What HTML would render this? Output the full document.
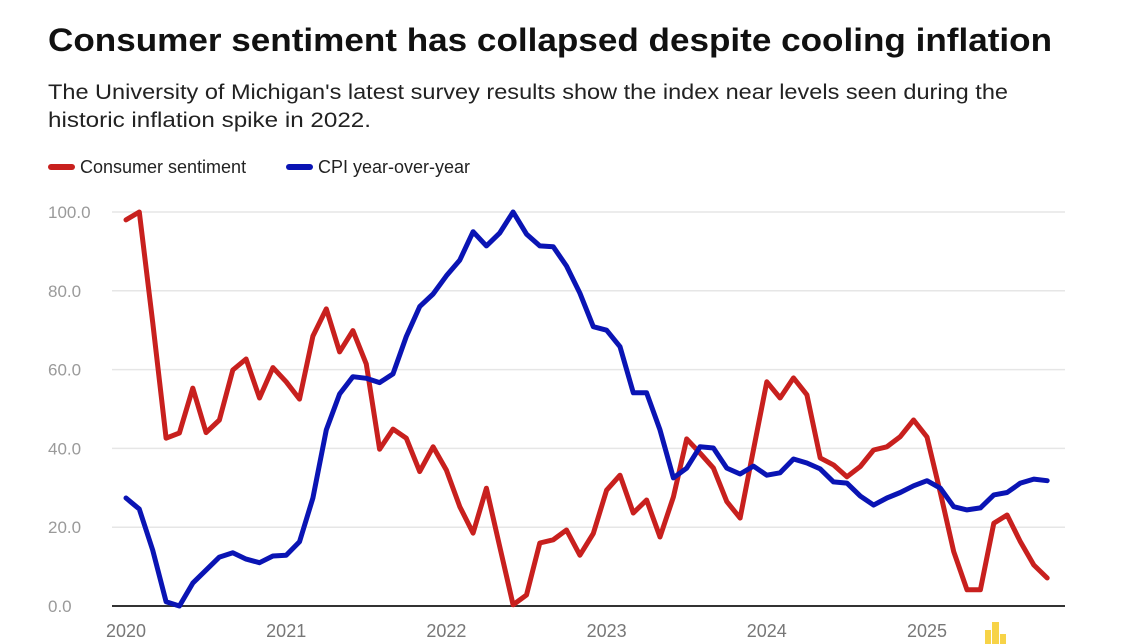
<!DOCTYPE html>
<html><head><meta charset="utf-8">
<style>
html,body{margin:0;padding:0;background:#fff;}
svg{display:block;font-family:"Liberation Sans",Arial,sans-serif;}
</style></head>
<body>
<svg id="chart" width="1121" height="644" viewBox="0 0 1121 644">
  <text x="48" y="51" font-size="32" font-weight="bold" fill="#111" textLength="1004" lengthAdjust="spacingAndGlyphs">Consumer sentiment has collapsed despite cooling inflation</text>
  <text x="48" y="99" font-size="21" fill="#222" textLength="960" lengthAdjust="spacingAndGlyphs">The University of Michigan's latest survey results show the index near levels seen during the</text>
  <text x="48" y="127" font-size="21" fill="#222" textLength="323" lengthAdjust="spacingAndGlyphs">historic inflation spike in 2022.</text>
  <g>
    <g>
      <line x1="51" y1="167" x2="72" y2="167" stroke="#c8201e" stroke-width="6" stroke-linecap="round"/>
      <text x="80" y="173" font-size="18" fill="#222">Consumer sentiment</text>
    </g>
    <g>
      <line x1="289" y1="167" x2="310" y2="167" stroke="#0a14b4" stroke-width="6" stroke-linecap="round"/>
      <text x="318" y="173" font-size="18" fill="#222">CPI year-over-year</text>
    </g>
  </g>
  <g id="grid"></g>
  <g id="yaxis"></g>
  <g id="xaxis"></g>
  <g id="series"></g>
  <g>
    <rect x="985" y="630" width="6" height="14" fill="#f7d347"/>
    <rect x="992" y="622" width="7" height="22" fill="#f7d347"/>
    <rect x="1000" y="634" width="6" height="10" fill="#f7d347"/>
  </g>
</svg>
<script>
const yTicks = [0, 20, 40, 60, 80, 100];
const yTickLabels = ["0.0", "20.0", "40.0", "60.0", "80.0", "100.0"];
const xYears = [2020, 2021, 2022, 2023, 2024, 2025];
const xYearLabels = ["2020", "2021", "2022", "2023", "2024", "2025"];
const sentiment = [98,100,72,42.6,43.9,55.3,44,47.2,59.9,62.7,52.8,60.5,56.9,52.5,68.5,75.4,64.5,69.9,61.4,39.8,44.9,42.6,34.1,40.4,34.5,25.2,18.5,29.9,15,0.3,2.8,16,16.8,19.3,12.9,18.4,29.4,33.2,23.6,26.9,17.5,27.7,42.4,38.8,35,26.5,22.3,39.6,56.9,52.8,57.9,53.6,37.6,35.8,32.8,35.4,39.6,40.4,43,47.2,42.9,28.7,13.8,4.1,4.1,21,23.1,16.3,10.4,7.1];
const cpi = [27.4,24.6,14.2,1.1,0,5.8,9.1,12.4,13.5,11.9,11,12.7,12.9,16.3,27.4,44.7,53.8,58.2,57.8,56.7,58.9,68.4,76,79.2,83.8,87.8,95,91.4,94.7,100,94.4,91.4,91.2,86.3,79.4,70.9,70,65.8,54.1,54.1,44.7,32.5,35,40.4,40.1,35,33.5,35.5,33.2,33.8,37.3,36.3,34.8,31.5,31.2,27.9,25.6,27.4,28.8,30.5,31.8,29.9,25.2,24.4,24.9,28.2,28.8,31.2,32.2,31.8];

const NS = "http://www.w3.org/2000/svg";
const plotL = 112, plotR = 1065, y0px = 606, y100px = 212;
const x0px = 126, monthPx = 13.35;
function yScale(v){ return y0px - (v/100)*(y0px - y100px); }
function xScale(i){ return x0px + i*monthPx; }
function xYear(yr){ return xScale((yr-2020)*12); }
function mk(tag, attrs, parent){
  const e = document.createElementNS(NS, tag);
  for (const k in attrs) e.setAttribute(k, attrs[k]);
  parent.appendChild(e); return e;
}
const grid = document.getElementById('grid');
const yaxis = document.getElementById('yaxis');
const xaxis = document.getElementById('xaxis');
const series = document.getElementById('series');

yTicks.forEach((t, i) => {
  const y = yScale(t);
  if (t !== 0) {
    const g = mk('line', {x1: plotL, x2: plotR, y1: y, y2: y, stroke: '#e6e6e6', 'stroke-width': 1.5}, grid);
    
    
  }
  const lb = mk('text', {x: 48, y: y + 6, 'font-size': 17, fill: '#9a9a9a'}, yaxis);
  lb.textContent = yTickLabels[i];
  
  
});
const base = mk('line', {x1: plotL, x2: plotR, y1: y0px, y2: y0px, stroke: '#333', 'stroke-width': 2}, xaxis);


xYears.forEach((yr, i) => {
  const lb = mk('text', {x: xYear(yr), y: 637, 'font-size': 18, fill: '#777', 'text-anchor': 'middle'}, xaxis);
  lb.textContent = xYearLabels[i];
  
  
});
function drawLine(vals, color, name){
  const d = vals.map((v, i) => (i ? 'L' : 'M') + xScale(i).toFixed(1) + ' ' + yScale(v).toFixed(1)).join(' ');
  const p = mk('path', {d: d, fill: 'none', stroke: color, 'stroke-width': 5, 'stroke-linejoin': 'round', 'stroke-linecap': 'round'}, series);
  
  
}
drawLine(sentiment, '#c8201e', 'consumer-sentiment-line');
drawLine(cpi, '#0a14b4', 'cpi-line');
</script>
</body></html>
